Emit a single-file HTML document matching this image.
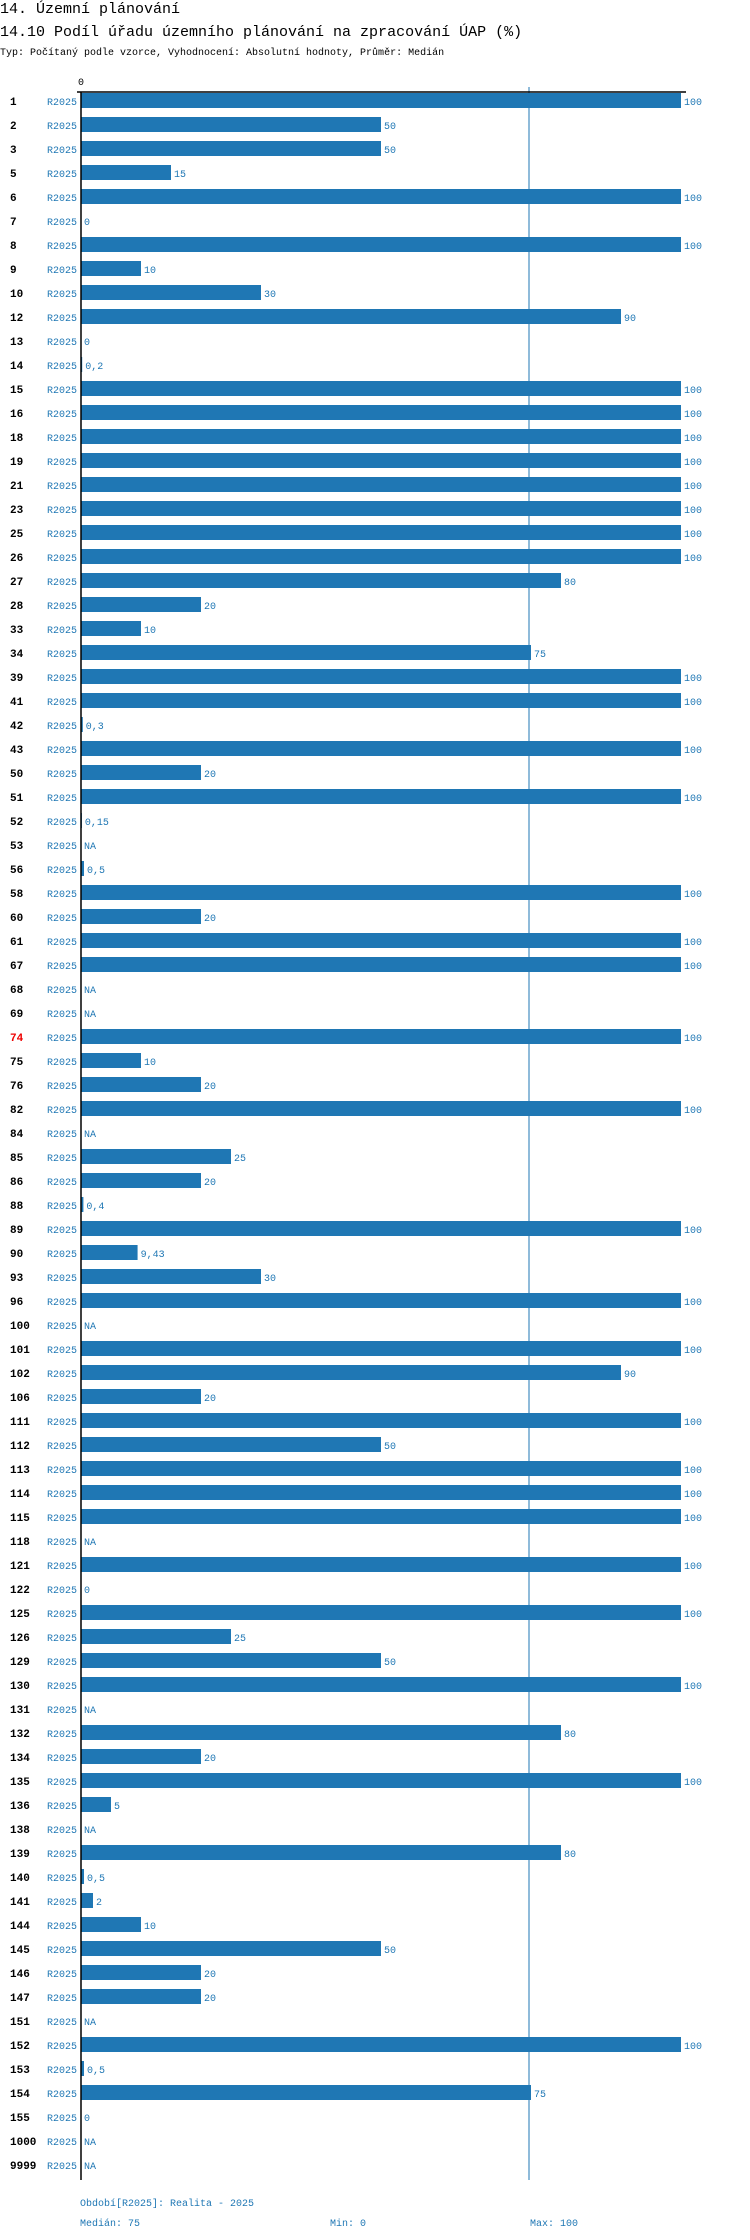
<!DOCTYPE html>
<html><head><meta charset="utf-8"><style>
body{margin:0;background:#fff}
svg{display:block;font-family:"Liberation Mono",monospace}
</style></head><body>
<svg width="750" height="2240" viewBox="0 0 750 2240">
<text x="0" y="13" font-size="15">14. Územní plánování</text>
<text x="0" y="36" font-size="15">14.10 Podíl úřadu územního plánování na zpracování ÚAP (%)</text>
<text x="0" y="55" font-size="10">Typ: Počítaný podle vzorce, Vyhodnocení: Absolutní hodnoty, Průměr: Medián</text>
<g id="plot"></g>
<text x="80" y="2206" font-size="10" fill="#1f77b4">Období[R2025]: Realita - 2025</text>
<text x="80" y="2226" font-size="10" fill="#1f77b4">Medián: 75</text>
<text x="330" y="2226" font-size="10" fill="#1f77b4">Min: 0</text>
<text x="530" y="2226" font-size="10" fill="#1f77b4">Max: 100</text>
</svg>
<script>
const categories=["1","2","3","5","6","7","8","9","10","12","13","14","15","16","18","19","21","23","25","26","27","28","33","34","39","41","42","43","50","51","52","53","56","58","60","61","67","68","69","74","75","76","82","84","85","86","88","89","90","93","96","100","101","102","106","111","112","113","114","115","118","121","122","125","126","129","130","131","132","134","135","136","138","139","140","141","144","145","146","147","151","152","153","154","155","1000","9999"];
const values=[100,50,50,15,100,0,100,10,30,90,0,0.2,100,100,100,100,100,100,100,100,80,20,10,75,100,100,0.3,100,20,100,0.15,null,0.5,100,20,100,100,null,null,100,10,20,100,null,25,20,0.4,100,9.43,30,100,null,100,90,20,100,50,100,100,100,null,100,0,100,25,50,100,null,80,20,100,5,null,80,0.5,2,10,50,20,20,null,100,0.5,75,0,null,null];
const highlighted=["74"];
const medianValue=75;
const xTicks=[0];

const NS="http://www.w3.org/2000/svg";
const g=document.getElementById('plot');
const x0=81,x1=681,vmax=100;
const xs=v=>x0+(v/vmax)*(x1-x0);
const y0=101,step=24;
const ys=i=>y0+i*step;
const bottom=ys(categories.length-1)+15;
function mk(t,a){const e=document.createElementNS(NS,t);for(const k in a)e.setAttribute(k,a[k]);g.appendChild(e);return e;}
const fmt=v=>String(v).replace('.',',');

categories.forEach((c,i)=>{
  const y=ys(i);
  const lab=mk('text',{x:10,y:y+4,'font-size':11,'font-weight':'bold',fill:highlighted.includes(c)?'#e00':'#000'});
  lab.textContent=c;
  
  
  const per=mk('text',{x:47,y:y+4,'font-size':10,fill:'#1f77b4'});
  per.textContent='R2025';
  
  
  const v=values[i];
  let endX=x0;
  if(v!==null&&v>0){
    const r=mk('rect',{x:x0,y:y-8,width:xs(v)-x0,height:15,fill:'#1f77b4'});
    
    
    endX=xs(v);
  }
  const vl=mk('text',{x:endX+3,y:y+4,'font-size':10,fill:'#1f77b4'});
  vl.textContent=v===null?'NA':fmt(v);
  
  
});
const med=mk('line',{x1:xs(medianValue)-2,x2:xs(medianValue)-2,y1:87,y2:bottom,stroke:'#1f77b4','stroke-width':1});


const ax=mk('line',{x1:77,x2:686,y1:92,y2:92,stroke:'#000','stroke-width':1.5});


const ay=mk('line',{x1:x0,x2:x0,y1:92,y2:bottom,stroke:'#000','stroke-width':1.5});


xTicks.forEach(t=>{
  const tl=mk('text',{x:xs(t)-3,y:85,'font-size':10,fill:'#000'});
  tl.textContent=t;
  
  
});
</script>
</body></html>
